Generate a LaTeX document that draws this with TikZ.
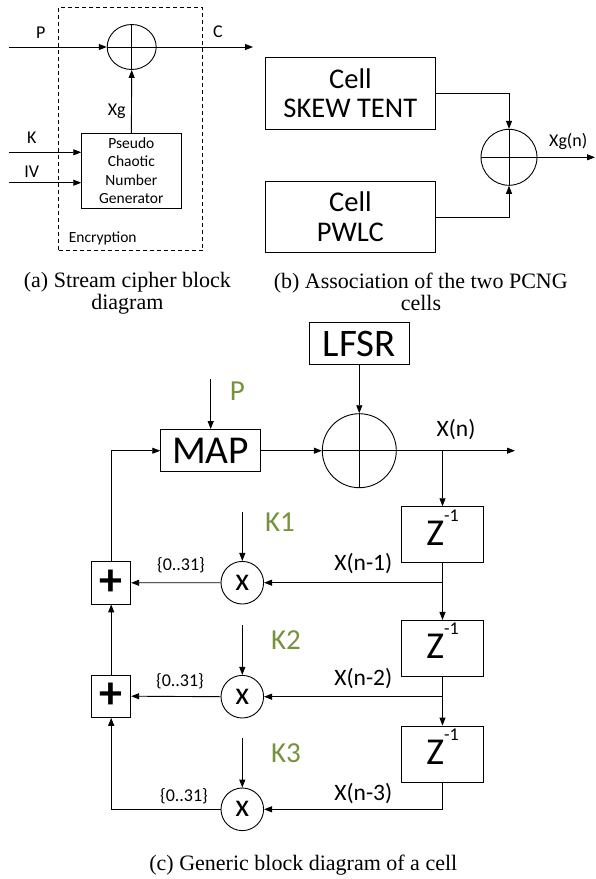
\documentclass[tikz,border=0pt]{standalone}
\usepackage{fontspec}
\setmainfont{Liberation Serif}
\newfontfamily\calfont{Carlito}
\usetikzlibrary{arrows.meta,shapes.geometric}
\definecolor{olive}{HTML}{76923C}
\newcommand\myfs[1]{\fontsize{#1}{#1}\selectfont}
\begin{document}
\begin{tikzpicture}[x=1pt,y=-1pt,
 ln/.style={line width=0.9pt},
 arr/.style={ln,-{Triangle[length=8pt,width=6pt]}},
 box/.style={draw,ln,inner sep=0pt},
 lbl/.style={inner sep=0pt,anchor=base},
 captxt/.style={inner sep=0pt,anchor=base,font=\myfs{22}},
]
\useasboundingbox (0,0) rectangle (595,879);
% ---------------- panel (a)
\node[draw,ln,dashed,dash pattern=on 4pt off 3pt,minimum width=144pt,minimum height=243.4pt,inner sep=0pt] (enc) at (130.7,129) {};
\node[ellipse,draw,ln,minimum width=49pt,minimum height=45pt,inner sep=0pt] (xa) at (131.7,47) {};
\draw[ln] (xa.north) -- (xa.south) (xa.west) -- (xa.east);
\node[box,minimum width=99.3pt,minimum height=75pt,align=center,font=\calfont\fontsize{15.5}{18.4}\selectfont] (pcng) at (131.35,170.8) {Pseudo\\Chaotic\\Number\\Generator};
\coordinate (pin) at (9,47);
\coordinate (cout) at (253,47);
\coordinate (kin) at (9,152.3);
\coordinate (ivin) at (9,182.7);
\draw[arr] (pin) -- (xa.west);
\draw[arr] (xa.east) -- (cout);
\draw[arr] (pcng.north) -- (xa.south);
\draw[arr] (kin) -- (kin -| pcng.west);
\draw[arr] (ivin) -- (ivin -| pcng.west);
\begin{scope}[every node/.style={lbl,font=\calfont\myfs{18}}]
\node (lp) at (40.7,38.3) {P};
\node (lc) at (218,37.3) {C};
\node (lxg) at (116.7,115) {Xg};
\node (lk) at (31.7,143.3) {K};
\node (liv) at (31.7,177.3) {IV};
\end{scope}
\node[lbl,font=\calfont\myfs{15.5}] (lenc) at (102.7,242.3) {Encryption};
\node[captxt] (capa1) at (127.4,287) {(a) Stream cipher block};
\node[captxt] (capa2) at (127.4,309) {diagram};
% ---------------- panel (b)
\node[box,minimum width=170.7pt,minimum height=71.7pt,align=center,font=\calfont\fontsize{28.5}{28.3}\selectfont] (skew) at (350.35,93.2) {Cell\\SKEW TENT};
\node[box,minimum width=170.7pt,minimum height=70.6pt,align=center,font=\calfont\fontsize{28.5}{30}\selectfont] (pwlc) at (350.35,217) {Cell\\PWLC};
\node[circle,draw,ln,minimum size=56pt,inner sep=0pt] (xb) at (509,157.3) {};
\draw[ln] (xb.north) -- (xb.south) (xb.west) -- (xb.east);
\coordinate (xgout) at (595,157.3);
\draw[arr] (skew.east) -| (xb.north);
\draw[arr] (pwlc.east) -| (xb.south);
\draw[arr] (xb.east) -- (xgout);
\node[lbl,font=\calfont\myfs{18}] (lxgn) at (568.3,146.7) {Xg(n)};
\node[captxt] (capb1) at (420.8,288) {(b) Association of the two PCNG};
\node[captxt] (capb2) at (421,310) {cells};
% ---------------- panel (c)
\node[box,minimum width=100pt,minimum height=41.6pt,font=\calfont\myfs{39}] (lfsr) at (359.3,343.5) {LFSR};
\node[circle,draw,ln,minimum size=74pt,inner sep=0pt] (xc) at (359.3,450.7) {};
\draw[ln] (xc.north) -- (xc.south) (xc.west) -- (xc.east);
\node[box,minimum width=100pt,minimum height=42.4pt,font=\calfont\myfs{39.5}] (map) at (210.7,450.7) {MAP};
\node[box,minimum width=81.6pt,minimum height=55.6pt] (z1) at (442.5,534.5) {};
\node[box,minimum width=81.6pt,minimum height=55.6pt] (z2) at (442.5,648.2) {};
\node[box,minimum width=81.6pt,minimum height=56.3pt] (z3) at (442.5,754.2) {};
\begin{scope}[every node/.style={lbl,font=\calfont\myfs{38}}]
\node (tz1) at (442.5,545) {Z\raisebox{0.62em}{\myfs{18}-1}};
\node (tz2) at (442.5,658.3) {Z\raisebox{0.62em}{\myfs{18}-1}};
\node (tz3) at (442.5,764.3) {Z\raisebox{0.62em}{\myfs{18}-1}};
\end{scope}
\begin{scope}[every node/.style={circle,draw,ln,minimum size=42.6pt,inner sep=0pt,font=\calfont\myfs{32}}]
\node (m1) at (242.3,582.7) {x};
\node (m2) at (242.3,696.7) {x};
\node (m3) at (242.3,809.3) {x};
\end{scope}
\begin{scope}[every node/.style={box,minimum width=39pt,minimum height=42.3pt,font=\calfont\bfseries\myfs{46}}]
\node (p1) at (111.2,582.8) {+};
\node (p2) at (111.2,696.2) {+};
\end{scope}
\coordinate (pc) at (210.7,379.3);
\coordinate (xout) at (515,450.7);
\coordinate (b0) at (442.5,450.7);
\coordinate (b1) at (442.5,582.7);
\coordinate (b2) at (442.5,696.7);
\coordinate (k1) at (242.3,511.7);
\coordinate (k2) at (242.3,625);
\coordinate (k3) at (242.3,738.3);
\draw[arr] (lfsr.south) -- (xc.north);
\draw[arr] (pc) -- (map.north);
\draw[arr] (map.east) -- (xc.west);
\draw[arr] (xc.east) -- (xout);
\draw[arr] (b0) -- (z1.north);
\draw[arr] (z1.south) -- (z2.north);
\draw[arr] (z2.south) -- (z3.north);
\draw[arr] (b1) -- (m1.east);
\draw[arr] (b2) -- (m2.east);
\draw[arr] (z3.south) |- (m3.east);
\draw[arr] (m1.west) -- (p1.east);
\draw[arr] (m2.west) -- (p2.east);
\draw[arr] (m3.west) -| (p2.south);
\draw[arr] (p2.north) -- (p1.south);
\draw[arr] (p1.north) |- (map.west);
\draw[arr] (k1) -- (m1.north);
\draw[arr] (k2) -- (m2.north);
\draw[arr] (k3) -- (m3.north);
\begin{scope}[every node/.style={lbl,font=\calfont\myfs{29},text=olive}]
\node (lpc) at (237.3,400) {P};
\node (lk1) at (280,531.7) {K1};
\node (lk2) at (286,649.3) {K2};
\node (lk3) at (286,762.3) {K3};
\end{scope}
\begin{scope}[every node/.style={lbl,font=\calfont\myfs{23.5}}]
\node (lxn) at (456,436.7) {X(n)};
\node (lxn1) at (363.3,570) {X(n-1)};
\node (lxn2) at (363.3,685) {X(n-2)};
\node (lxn3) at (363.3,800) {X(n-3)};
\end{scope}
\begin{scope}[every node/.style={lbl,font=\calfont\myfs{18}}]
\node (r1) at (181,570.7) {\{0..31\}};
\node (r2) at (180,686.7) {\{0..31\}};
\node (r3) at (184,801.7) {\{0..31\}};
\end{scope}
\node[captxt] (capc) at (303.3,870) {(c) Generic block diagram of a cell};
\end{tikzpicture}
\end{document}
